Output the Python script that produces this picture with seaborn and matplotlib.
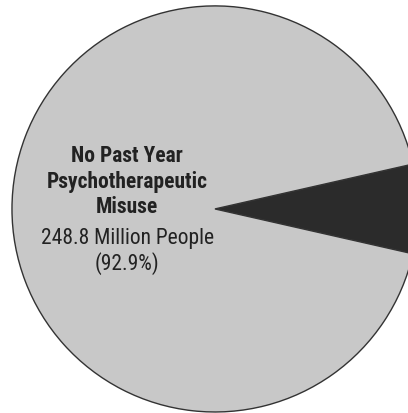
import matplotlib
matplotlib.use("Agg")
import matplotlib.pyplot as plt
import seaborn as sns

# ===== DATA =====
categories = ["Past Year Psychotherapeutic Misuse", "No Past Year Psychotherapeutic Misuse"]
people_millions = [19.0, 248.8]
colors = ["#2b2b2b", "#c8c8c8"]
main_label = "No Past Year\nPsychotherapeutic\nMisuse"
main_value = "248.8 Million People\n(92.9%)"

# ===== PLOT =====
sns.set_theme(style="white")
plt.rcParams["font.family"] = ["Roboto Condensed", "DejaVu Sans"]

fig = plt.figure(figsize=(4.08, 4.14), dpi=100)
ax = fig.add_axes([0, 0, 1, 1])

# dark slice centred on the 3 o'clock direction
share = people_millions[0] / sum(people_millions)
ax.pie(
    people_millions,
    colors=colors,
    startangle=-share * 180,
    counterclock=True,
    wedgeprops={"edgecolor": "#333333", "linewidth": 1.0},
)
ax.set_xlim(-1.059, 0.951)
ax.set_ylim(-1.005, 1.034)
ax.set_aspect("auto")
ax.axis("off")

ax.text(-0.433, 0.140, main_label, ha="center", va="center", fontsize=15.5,
        fontweight="bold", color="#222222", linespacing=1.2)
ax.text(-0.433, -0.204, main_value, ha="center", va="center", fontsize=15.5,
        color="#222222", linespacing=1.2)

fig.savefig("out.png", dpi=100, facecolor="white")
